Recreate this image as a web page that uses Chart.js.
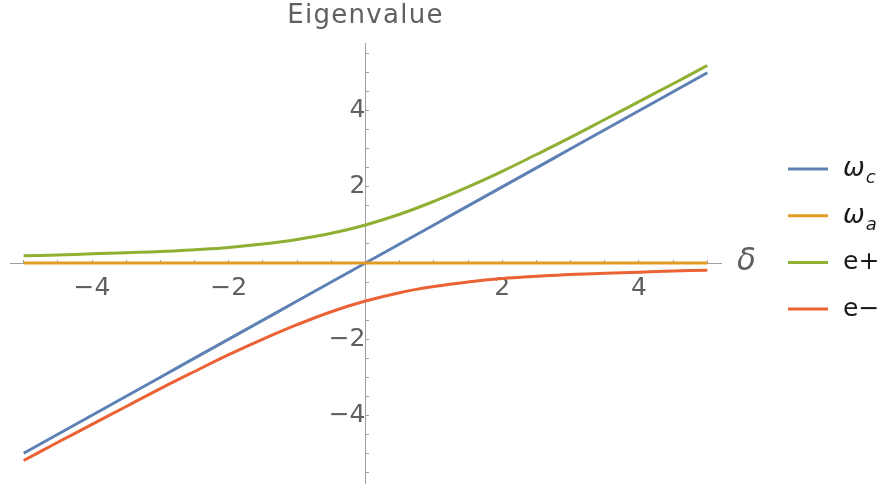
<!DOCTYPE html>
<html>
<head>
<meta charset="utf-8">
<title>Eigenvalue vs detuning</title>
<script src="https://cdn.jsdelivr.net/npm/chart.js@4/dist/chart.umd.min.js"></script>
<style>
  html, body { margin: 0; padding: 0; background: #ffffff; }
  #wrap { position: relative; width: 878px; height: 486px; }
</style>
</head>
<body>
<div id="wrap"><canvas id="plot" width="878" height="486"></canvas></div>
<script>
// Detuning samples
const deltaValues = [-5, -4.5, -4, -3.5, -3, -2.5, -2, -1.5, -1, -0.5, 0,
                     0.5, 1, 1.5, 2, 2.5, 3, 3.5, 4, 4.5, 5];
// Cavity frequency
const omegaC = [-5, -4.5, -4, -3.5, -3, -2.5, -2, -1.5, -1, -0.5, 0,
                0.5, 1, 1.5, 2, 2.5, 3, 3.5, 4, 4.5, 5];
// Atomic frequency
const omegaA = [0, 0, 0, 0, 0, 0, 0, 0, 0, 0, 0,
                0, 0, 0, 0, 0, 0, 0, 0, 0, 0];
// Upper dressed branch
const ePlus = [0.19, 0.21, 0.24, 0.27, 0.30, 0.35, 0.41, 0.50, 0.62, 0.78, 1.00,
               1.28, 1.62, 2.00, 2.41, 2.85, 3.30, 3.77, 4.24, 4.71, 5.19];
// Lower dressed branch
const eMinus = [-5.19, -4.71, -4.24, -3.77, -3.30, -2.85, -2.41, -2.00, -1.62, -1.28, -1.00,
                -0.78, -0.62, -0.50, -0.41, -0.35, -0.30, -0.27, -0.24, -0.21, -0.19];

const seriesNames = ['ωc', 'ωa', 'e+', 'e\u2212'];
const seriesColors = ['#5E81B5', '#E19C24', '#8FB032', '#EB6235'];
const yTickLabels = [-4, -2, 2, 4];
const xTickLabels = [-4, -2, 2, 4];

const FONT = '"DejaVu Sans", "Liberation Sans", sans-serif';
const LABEL_GRAY = '#606060';
const AXIS_GRAY = '#a0a0a0';

function toPoints(ys) {
  return deltaValues.map((d, i) => ({ x: d, y: ys[i] }));
}

function fmt(v) {
  return v < 0 ? '\u2212' + Math.abs(v) : String(v);
}

// Axes sit on the origin, so they must not take space from the plot area
function collapse(scale, horizontal) {
  if (horizontal) scale.height = 0; else scale.width = 0;
  scale.paddingTop = 0;
  scale.paddingBottom = 0;
  scale.paddingLeft = 0;
  scale.paddingRight = 0;
}

const allSeries = [omegaC, omegaA, ePlus, eMinus];
const datasets = allSeries.map((ys, i) => ({
  label: seriesNames[i],
  data: toPoints(ys),
  borderColor: seriesColors[i],
  backgroundColor: seriesColors[i],
  borderWidth: 3,
  pointRadius: 0,
  pointHoverRadius: 0,
  tension: 0.4,
  fill: false,
  order: allSeries.length - i
}));

// Axis titles and legend drawn on the canvas
const decorations = {
  id: 'decorations',
  afterDraw(chart) {
    const ctx = chart.ctx;
    const xs = chart.scales.x, ys = chart.scales.y;
    const x0 = xs.getPixelForValue(0);
    const y0 = ys.getPixelForValue(0);
    ctx.save();

    // Vertical axis title
    ctx.fillStyle = LABEL_GRAY;
    ctx.font = '26px ' + FONT;
    ctx.letterSpacing = '1.3px';
    ctx.textAlign = 'center';
    ctx.textBaseline = 'alphabetic';
    ctx.fillText('Eigenvalue', x0, 23);
    ctx.letterSpacing = '0px';

    // Horizontal axis title
    ctx.font = 'italic 31px ' + FONT;
    ctx.textAlign = 'left';
    ctx.textBaseline = 'middle';
    ctx.fillText('δ', chart.chartArea.right + 16, y0 - 1);

    // Legend
    const lx = chart.chartArea.right + 67;
    const top = 169, step = 46.7;
    chart.data.datasets.forEach((ds, i) => {
      const y = top + i * step;
      ctx.strokeStyle = ds.borderColor;
      ctx.lineWidth = 3;
      ctx.beginPath();
      ctx.moveTo(lx, y);
      ctx.lineTo(lx + 40, y);
      ctx.stroke();

      ctx.fillStyle = '#1a1a1a';
      ctx.textAlign = 'left';
      ctx.textBaseline = 'alphabetic';
      const tx = lx + 55;
      const name = ds.label;
      if (name.startsWith('ω')) {
        ctx.font = 'italic 26px ' + FONT;
        ctx.fillText('ω', tx, y + 7);
        const w = ctx.measureText('ω').width;
        ctx.font = 'italic 18px ' + FONT;
        ctx.fillText(name.slice(1), tx + w + 1, y + 14);
      } else {
        ctx.font = '25px ' + FONT;
        ctx.fillText(name, tx, y + 7);
      }
    });
    ctx.restore();
  }
};

new Chart(document.getElementById('plot'), {
  type: 'line',
  data: { datasets },
  plugins: [decorations],
  options: {
    responsive: false,
    animation: false,
    events: [],
    layout: { padding: { left: 10, right: 157, top: 43, bottom: 3 } },
    plugins: {
      legend: { display: false },
      tooltip: { enabled: false },
      title: { display: false }
    },
    scales: {
      x: {
        type: 'linear',
        position: { y: 0 },
        min: -5.2,
        max: 5.2,
        afterFit(scale) { collapse(scale, true); },
        border: { display: true, color: AXIS_GRAY, width: 1 },
        grid: {
          display: true,
          drawOnChartArea: false,
          drawTicks: true,
          tickLength: -4,
          tickColor: AXIS_GRAY,
          tickWidth: 1
        },
        ticks: {
          stepSize: 0.5,
          includeBounds: false,
          autoSkip: false,
          maxRotation: 0,
          padding: 14,
          color: LABEL_GRAY,
          font: { family: FONT, size: 25 },
          callback: (v) => xTickLabels.includes(v) ? fmt(v) : ''
        }
      },
      y: {
        type: 'linear',
        position: { x: 0 },
        min: -5.78,
        max: 5.78,
        afterFit(scale) { collapse(scale, false); },
        border: { display: true, color: AXIS_GRAY, width: 1 },
        grid: {
          display: true,
          drawOnChartArea: false,
          drawTicks: true,
          tickLength: -4,
          tickColor: AXIS_GRAY,
          tickWidth: 1
        },
        ticks: {
          stepSize: 0.5,
          includeBounds: false,
          autoSkip: false,
          padding: 12,
          color: LABEL_GRAY,
          font: { family: FONT, size: 25 },
          callback: (v) => yTickLabels.includes(v) ? fmt(v) : ''
        }
      }
    }
  }
});
</script>
</body>
</html>
